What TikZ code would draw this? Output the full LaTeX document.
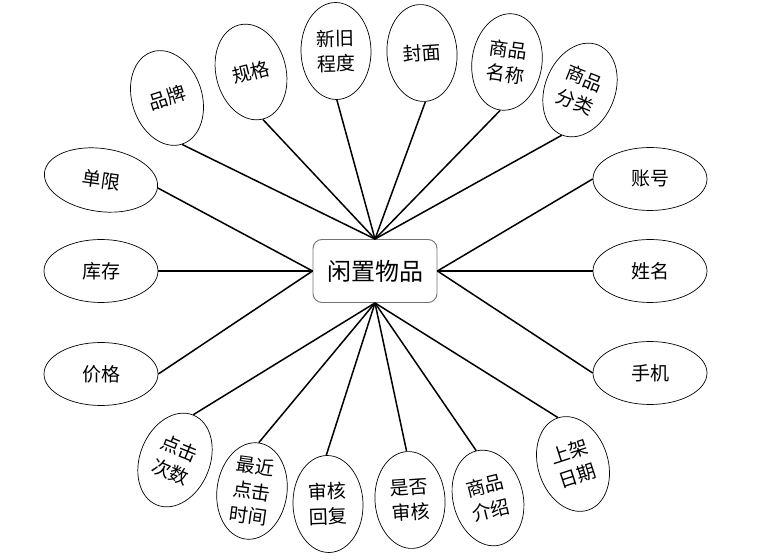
\documentclass[tikz,border=0pt]{standalone}
\usepackage{fontspec}
\setmainfont{Noto Sans CJK SC}
\usetikzlibrary{shapes.geometric}

\begin{document}
\begin{tikzpicture}[x=1pt, y=1pt,
    attr/.style={draw=black, ellipse, line width=0.7pt, inner sep=0pt, minimum width=70pt, minimum height=97pt, align=center, font=\fontsize{19}{25}\selectfont},
    attrw/.style={attr, minimum width=114pt, minimum height=63pt},
    item/.style={draw=black!55, rounded corners=9pt, line width=0.9pt, minimum width=124pt, minimum height=63pt, font=\fontsize{24}{27}\selectfont},
    link/.style={line width=1.5pt}]
  \useasboundingbox (0,0) rectangle (764,560);
  \node[item] (goods) at (375,289) {闲置物品};
  % upper ring
  \node[attr, rotate=18] (pinpai) at (167,462) {品牌};
  \node[attr, rotate=14] (guige) at (251,488) {规格};
  \node[attr, rotate=1] (xinjiu) at (336,509) {新旧\\程度};
  \node[attr, rotate=4] (fengmian) at (422,507) {封面};
  \node[attr, rotate=-8] (mingcheng) at (507,498) {商品\\名称};
  \node[attr, rotate=-22] (fenlei) at (580,470) {商品\\分类};
  % sides
  \node[attrw, rotate=-8] (danxian) at (101,380) {单限};
  \node[attrw] (kucun) at (101,289) {库存};
  \node[attrw] (jiage) at (101,186) {价格};
  \node[attrw] (zhanghao) at (650,381) {账号};
  \node[attrw] (xingming) at (650,289) {姓名};
  \node[attrw] (shouji) at (650,187) {手机};
  % lower ring
  \node[attr, rotate=-22] (cishu) at (175,100) {点击\\次数};
  \node[attr, rotate=-8] (shijian) at (252,69) {最近\\点击\\时间};
  \node[attr, rotate=2] (huifu) at (328,56) {审核\\回复};
  \node[attr, rotate=4] (shenhe) at (410,60) {是否\\审核};
  \node[attr, rotate=14] (jieshao) at (488,62) {商品\\介绍};
  \node[attr, rotate=18] (shangjia) at (573,96) {上架\\日期};
  \foreach \n in {pinpai, guige, xinjiu, fengmian, mingcheng, fenlei}
    \draw[link] (goods.north) -- (\n.south);
  \foreach \n in {cishu, shijian, huifu, shenhe, jieshao, shangjia}
    \draw[link] (goods.south) -- (\n.north);
  \foreach \n in {danxian, kucun, jiage}
    \draw[link] (goods.west) -- (\n.east);
  \foreach \n in {zhanghao, xingming, shouji}
    \draw[link] (goods.east) -- (\n.west);
\end{tikzpicture}
\end{document}
